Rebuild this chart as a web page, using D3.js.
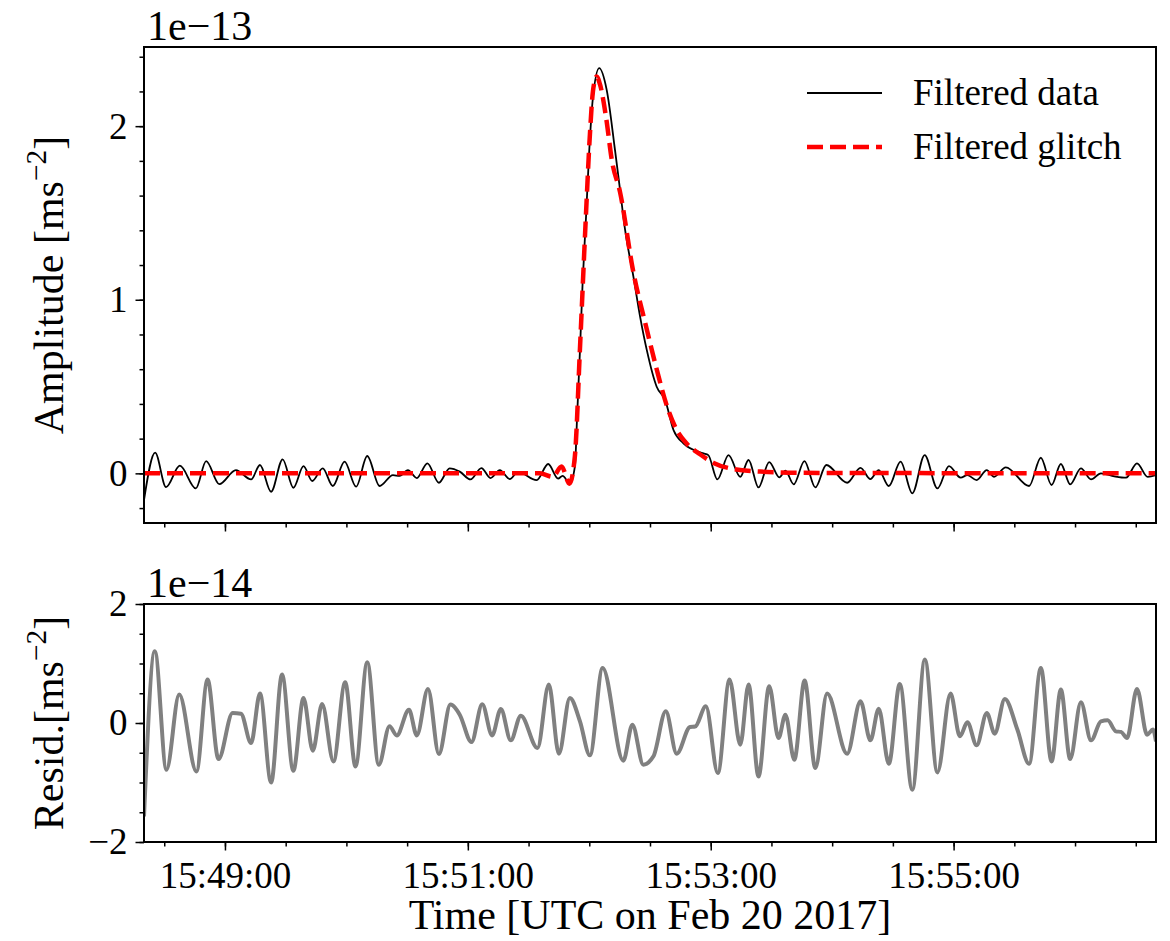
<!DOCTYPE html>
<html>
<head>
<meta charset="utf-8">
<script src="https://cdn.jsdelivr.net/npm/d3@7"></script>
<style>
  body { margin: 0; background: #fff; }
  text { font-family: "Liberation Serif", "Times New Roman", serif; fill: #000; }
</style>
</head>
<body>
<div id="chart"></div>
<script>
// time offsets are seconds after 15:48:20 UTC, values in units of the offset (1e-13 / 1e-14)
var filteredData = [
  [0, -0.154], [5.5, 0.119], [10.9, -0.079], [17.7, 0.044], [25.6, -0.087], [30.7, 0.071],
  [37.2, -0.062], [45.4, 0.019], [52.9, -0.035], [57.3, 0.048], [62.8, -0.106], [68.5, 0.081],
  [73.8, -0.083], [78.8, 0.042], [83.1, -0.044], [88.3, 0.029], [93.3, -0.073], [99.1, 0.067],
  [104.8, -0.077], [110.3, 0.1], [116.4, -0.073], [123, -0.01], [126.3, -0.015], [130.4, 0.019],
  [134.8, -0.027], [140, 0.058], [145.7, -0.054], [151, 0.029], [156, 0.01], [161.3, -0.035],
  [166.7, 0.03], [171.2, -0.027], [175.8, 0.019], [180.7, -0.033], [184.8, 0.009], [194, -0.039],
  [199.7, 0.054], [204.6, -0.03], [206.8, -0.015], [210.4, -0.058], [212.9, 0.04], [214, 0.33],
  [215.4, 0.71], [216.7, 1.095], [218.4, 1.479], [220, 1.863], [221.7, 2.152], [224.9, 2.334],
  [228.6, 2.209], [232.7, 1.863], [235.2, 1.633], [237.7, 1.402], [241.8, 1.133], [245.1, 0.903],
  [248.4, 0.711], [253.3, 0.499], [257.5, 0.422], [261.6, 0.25], [266.5, 0.173], [276.4, 0.115],
  [278.8, 0.105], [283.3, -0.035], [288.8, 0.105], [294.6, -0.02], [298.7, 0.077], [303.6, -0.081],
  [308.9, 0.065], [313.9, -0.023], [316.9, 0.015], [321, -0.063], [326.3, 0.071], [331.7, -0.081],
  [337.1, 0.048], [347.4, -0.054], [354, 0.032], [358.9, -0.033], [363, 0.019], [368, -0.073],
  [373.8, 0.067], [379.6, -0.115], [385.7, 0.105], [392, -0.087], [397.7, 0.042], [403.5, -0.025],
  [406.8, -0.01], [411.4, -0.039], [416.4, 0.019], [420, -0.02], [425.8, 0.035], [437.3, -0.073],
  [443.1, 0.09], [448.4, -0.067], [453, 0.054], [457.6, -0.063], [462.9, 0.029], [467.9, -0.035],
  [472.8, 0], [479.4, -0.017], [485.2, -0.025], [490.6, 0.058], [495.9, -0.02], [500, -0.01]
];

var filteredGlitch = [
  [0, 0], [195.6, 0], [202, -0.02], [206.3, 0.04], [210.2, -0.06], [212.9, 0.1], [215.4, 0.72],
  [218.4, 1.5], [220.3, 1.95], [221.8, 2.2], [223.6, 2.286], [225.3, 2.24], [228.3, 2.05],
  [231.2, 1.8], [235.2, 1.62], [241.6, 1.17], [248.4, 0.83], [253.3, 0.6], [258.3, 0.39],
  [263.2, 0.25], [268.2, 0.17], [274.7, 0.11], [281.4, 0.06], [291.1, 0.025], [304.5, 0.01],
  [324.3, 0.003], [500, 0]
];

var residual = [
  [0, -1.57], [5.35, 1.207], [11.1, -0.786], [17.4, 0.477], [25.9, -0.814], [31.4, 0.73],
  [36.8, -0.606], [43.8, 0.168], [47.9, 0.157], [52.9, -0.337], [57.3, 0.494], [62.8, -1.0],
  [68.2, 0.814], [73.8, -0.802], [78.8, 0.421], [83.4, -0.466], [88, 0.32], [93.6, -0.645],
  [99.4, 0.685], [104.5, -0.73], [110.3, 1.021], [116, -0.701], [121.3, -0.056], [124.9, -0.208],
  [130.9, 0.224], [134.8, -0.208], [140.3, 0.572], [145.7, -0.522], [151.4, 0.309], [156, 0.14],
  [161.8, -0.32], [167.1, 0.315], [172, -0.208], [176.3, 0.236], [181.2, -0.292], [186.2, 0.123],
  [194.4, -0.421], [200, 0.645], [205, -0.516], [210.4, 0.421], [215.4, 0.028], [220.3, -0.544],
  [226.6, 0.926], [236.8, -0.634], [241.3, -0.028], [246.7, -0.7], [251.7, -0.56], [257.8, 0.196],
  [263.2, -0.516], [269.8, -0.067], [272.3, -0.06], [277.6, 0.28], [283.5, -0.842], [289.3, 0.73],
  [294.6, -0.365], [298.7, 0.645], [303.6, -0.898], [308.9, 0.617], [313.5, -0.253], [316.9, 0.14],
  [321.3, -0.617], [326.4, 0.713], [331.7, -0.758], [337.5, 0.494], [347.4, -0.516], [354, 0.365],
  [358.9, -0.292], [363, 0.241], [368, -0.685], [373.4, 0.657], [379.6, -1.122], [385.8, 1.066],
  [392, -0.83], [398.5, 0.494], [403.1, -0.224], [406.8, 0.011], [411.4, -0.376], [416.4, 0.168],
  [420.3, -0.18], [425.3, 0.404], [431.5, -0.11], [437.3, -0.685], [443.1, 0.926], [448.4, -0.645],
  [453, 0.561], [457.6, -0.606], [462.9, 0.348], [467.9, -0.292], [472.8, 0.028], [476.1, 0.045],
  [480.2, -0.14], [482.7, -0.15], [485.7, -0.253], [490.6, 0.572], [495.6, -0.196], [498.5, -0.11],
  [500, -0.31]
];

// tick labels
var xTickLabels = ["15:49:00", "15:51:00", "15:53:00", "15:55:00"];
var topYTicks = [0, 1, 2];
var botYTicks = [-2, 0, 2];
var legendLabels = ["Filtered data", "Filtered glitch"];

// canvas
var svgWidth = 1170;
var svgHeight = 941;
var margin = { left: 144, right: 14 };
var width = svgWidth - margin.left - margin.right;

var topPanel = { y: 47, height: 476 };
var botPanel = { y: 604, height: 238 };

var fontSize = 37;      // tick labels, legend
var labelSize = 42;     // axis labels, offset text

var svg = d3.select("#chart")
  .append("svg")
  .attr("width", svgWidth)
  .attr("height", svgHeight);

// x scale (UTC time)
var startTime = Date.UTC(2017, 1, 20, 15, 48, 20);
var toDate = s => new Date(startTime + s * 1000);

var xScale = d3.scaleUtc()
  .domain([toDate(0), toDate(500)])
  .range([0, width]);

var parseTick = d3.utcParse("%Y-%m-%d %H:%M:%S");
var xMajor = xTickLabels.map(l => parseTick("2017-02-20 " + l));
var xMinor = xScale.ticks(d3.utcSecond.every(30));

var yTop = d3.scaleLinear().domain([-0.286, 2.456]).range([topPanel.height, 0]);
var yBot = d3.scaleLinear().domain([-2, 2]).range([botPanel.height, 0]);

var fmtNum = d => d < 0 ? "\u2212" + Math.abs(d) : String(d);

// draw ticks + frame for one panel
function drawAxes(g, yScale, height, yMajor, yMinorStep, showXLabels) {
  var bottomMinor = d3.axisBottom(xScale).tickValues(xMinor).tickSize(4.5).tickFormat("");
  var bottomMajor = d3.axisBottom(xScale).tickValues(xMajor).tickSize(8.5).tickPadding(11)
    .tickFormat(showXLabels ? (d, i) => xTickLabels[i] : "");

  var yDom = yScale.domain();
  var yMinor = d3.range(Math.ceil(yDom[0] / yMinorStep) * yMinorStep, yDom[1] + 1e-9, yMinorStep)
    .map(v => Math.round(v * 100) / 100);

  var leftMinor = d3.axisLeft(yScale).tickValues(yMinor).tickSize(4.5).tickFormat("");
  var leftMajor = d3.axisLeft(yScale).tickValues(yMajor).tickSize(8.5).tickPadding(8)
    .tickFormat(fmtNum);

  [bottomMinor, bottomMajor].forEach(function(ax) {
    g.append("g").attr("transform", `translate(0, ${height})`).call(ax);
  });
  [leftMinor, leftMajor].forEach(function(ax) {
    g.append("g").call(ax);
  });

  g.selectAll(".domain").remove();
  g.selectAll(".tick line").attr("stroke", "#000").attr("stroke-width", 1.5);
  g.selectAll(".tick text")
    .style("font-size", fontSize + "px")
    .style("font-family", '"Liberation Serif", "Times New Roman", serif')
    .attr("fill", "#000");

  // frame
  g.append("rect")
    .attr("width", width)
    .attr("height", height)
    .attr("fill", "none")
    .attr("stroke", "#000")
    .attr("stroke-width", 2);
}

// clip paths
var defs = svg.append("defs");
defs.append("clipPath").attr("id", "clipTop")
  .append("rect").attr("width", width).attr("height", topPanel.height);
defs.append("clipPath").attr("id", "clipBot")
  .append("rect").attr("width", width).attr("height", botPanel.height);

// y label with superscript unit
function yLabel(text, cy) {
  var t = svg.append("text")
    .attr("transform", `translate(63, ${cy}) rotate(-90)`)
    .attr("text-anchor", "middle")
    .style("font-size", labelSize + "px");
  t.append("tspan").text(text);
  t.append("tspan").attr("dy", -17).style("font-size", (labelSize * 0.7) + "px").text("\u22122");
  t.append("tspan").attr("dy", 17).text("]");
}

// ---------- top panel ----------
var topGroup = svg.append("g")
  .attr("transform", `translate(${margin.left}, ${topPanel.y})`);

var topLine = d3.line()
  .x(d => xScale(toDate(d[0])))
  .y(d => yTop(d[1]))
  .curve(d3.curveMonotoneX);

var topPlot = topGroup.append("g").attr("clip-path", "url(#clipTop)");

topPlot.append("path")
  .datum(filteredData)
  .attr("d", topLine)
  .attr("fill", "none")
  .attr("stroke", "#000")
  .attr("stroke-width", 1.8);

topPlot.append("path")
  .datum(filteredGlitch)
  .attr("d", topLine)
  .attr("fill", "none")
  .attr("stroke", "#ff0000")
  .attr("stroke-width", 4.5)
  .attr("stroke-dasharray", "16,7");

drawAxes(topGroup, yTop, topPanel.height, topYTicks, 0.2, false);

// offset text
topGroup.append("text")
  .attr("x", 3)
  .attr("y", -7)
  .style("font-size", labelSize + "px")
  .text("1e\u221213");

yLabel("Amplitude [ms", topPanel.y + topPanel.height / 2);

// legend
var legend = topGroup.append("g");
legendLabels.forEach(function(label, i) {
  var ly = 46 + i * 54;
  legend.append("line")
    .attr("x1", 663).attr("x2", 738)
    .attr("y1", ly).attr("y2", ly)
    .attr("stroke", i === 0 ? "#000" : "#ff0000")
    .attr("stroke-width", i === 0 ? 1.8 : 4.5)
    .attr("stroke-dasharray", i === 0 ? null : "16,7");
  legend.append("text")
    .attr("x", 769)
    .attr("y", ly + 12)
    .style("font-size", fontSize + "px")
    .text(label);
});

// ---------- bottom panel ----------
var botGroup = svg.append("g")
  .attr("transform", `translate(${margin.left}, ${botPanel.y})`);

var botLine = d3.line()
  .x(d => xScale(toDate(d[0])))
  .y(d => yBot(d[1]))
  .curve(d3.curveMonotoneX);

botGroup.append("g").attr("clip-path", "url(#clipBot)")
  .append("path")
  .datum(residual)
  .attr("d", botLine)
  .attr("fill", "none")
  .attr("stroke", "#808080")
  .attr("stroke-width", 4)
  .attr("stroke-linejoin", "round");

drawAxes(botGroup, yBot, botPanel.height, botYTicks, 0.5, true);

botGroup.append("text")
  .attr("x", 3)
  .attr("y", -7)
  .style("font-size", labelSize + "px")
  .text("1e\u221214");

yLabel("Resid.[ms", botPanel.y + botPanel.height / 2);

// x label
svg.append("text")
  .attr("x", margin.left + width / 2)
  .attr("y", 929)
  .attr("text-anchor", "middle")
  .style("font-size", labelSize + "px")
  .text("Time [UTC on Feb 20 2017]");
</script>
</body>
</html>
